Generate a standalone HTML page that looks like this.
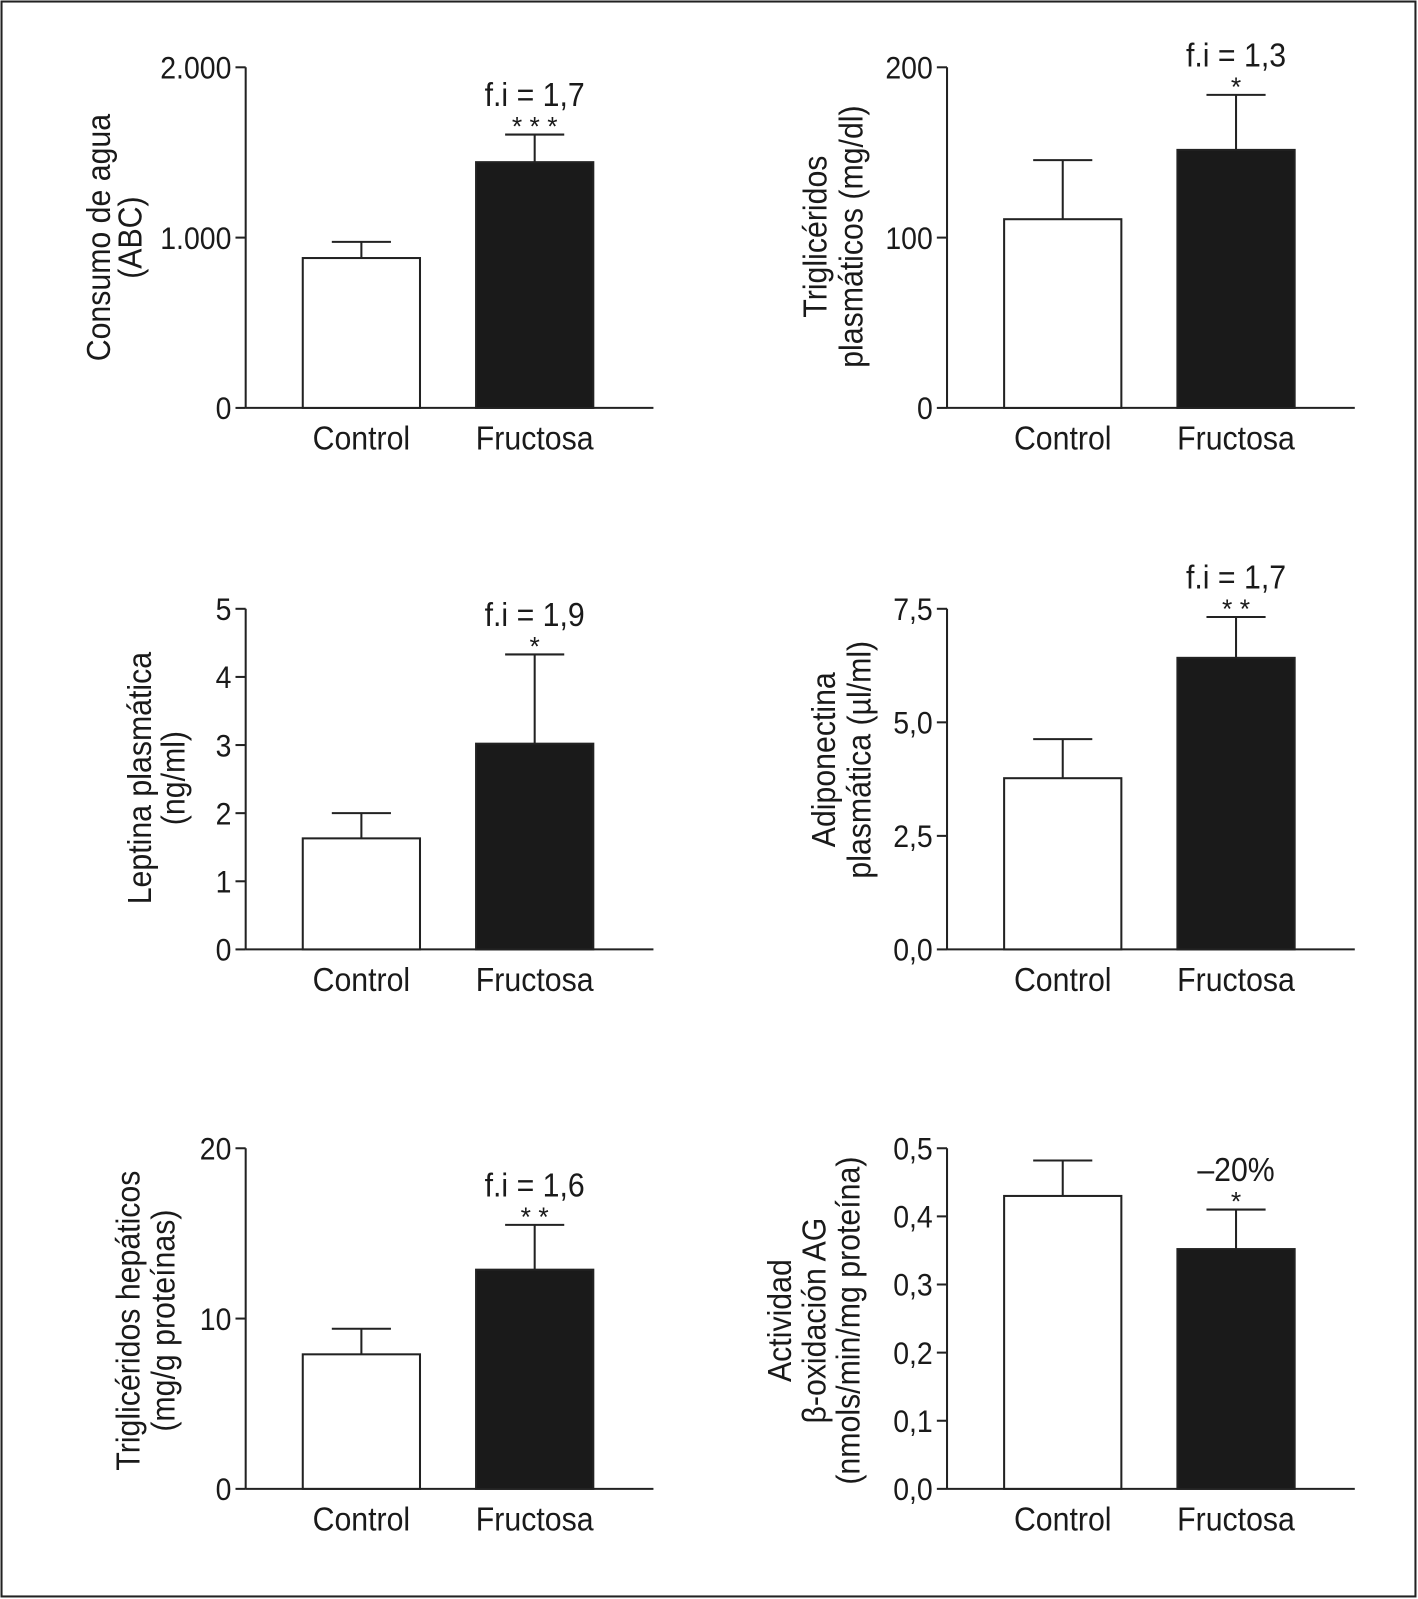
<!DOCTYPE html>
<html><head><meta charset="utf-8"><style>
html,body{margin:0;padding:0;background:#fff}
svg{display:block}
text{font-family:"Liberation Sans",sans-serif;fill:#1a1a1a}
</style></head><body>
<svg id="fig" width="1418" height="1599" viewBox="0 0 1391 1568" preserveAspectRatio="none" xmlns="http://www.w3.org/2000/svg">
<rect x="1.5" y="1.5" width="1387" height="1564" fill="#fff" stroke="#222" stroke-width="2"/>
</svg>
<script>
const categories = ["Control", "Fructosa"];
const panelTitles = [["Consumo de agua","(ABC)"],["Triglicéridos","plasmáticos (mg/dl)"],["Leptina plasmática","(ng/ml)"],["Adiponectina","plasmática (µl/ml)"],["Triglicéridos hepáticos","(mg/g proteínas)"],["Actividad","β-oxidación AG","(nmols/min/mg proteína)"]];
const yMax = [2000, 200, 5, 7.5, 20, 0.5];
const tickValues = [[0,1000,2000],[0,100,200],[0,1,2,3,4,5],[0,2.5,5,7.5],[0,10,20],[0,0.1,0.2,0.3,0.4,0.5]];
const tickLabels = [["0","1.000","2.000"],["0","100","200"],["0","1","2","3","4","5"],["0,0","2,5","5,0","7,5"],["0","10","20"],["0,0","0,1","0,2","0,3","0,4","0,5"]];
const meanValues = [[880,1443],[110.8,151.5],[1.63,3.02],[3.77,6.42],[7.9,12.87],[0.43,0.352]];
const errValues = [[975,1605],[145.5,183.8],[2.0,4.33],[4.63,7.32],[9.4,15.5],[0.482,0.41]];
const foldLabels = ["f.i = 1,7","f.i = 1,3","f.i = 1,9","f.i = 1,7","f.i = 1,6","–20%"];
const sigLabels = ["* * *","*","*","* *","* *","*"];

const svg = document.getElementById('fig');
const NS = "http://www.w3.org/2000/svg";
function mk(tag, attrs, parent){const e=document.createElementNS(NS,tag);for(const k in attrs)e.setAttribute(k,attrs[k]);(parent||svg).appendChild(e);return e;}
function squeeze(t,f){
  const w=t.getComputedTextLength();
  t.setAttribute('textLength',(w*(f||0.9)).toFixed(1));
  t.setAttribute('lengthAdjust','spacingAndGlyphs');
}
const layout=[{ax:241,top:66,bot:400},{ax:929,top:66,bot:400},{ax:241,top:597,bot:931},{ax:929,top:597,bot:931},{ax:241,top:1126,bot:1460},{ax:929,top:1126,bot:1460}];
const titleX=[[97,128],[800,835],[137,170],[808,843],[126,160],[765,799,832]];
const titleY=[233,232,763,745,1295,1295];

layout.forEach((L,p)=>{
  const g=mk('g',{});
  
  
  const y=v=>L.bot-(v/yMax[p])*(L.bot-L.top);
  const xStart=[L.ax+56,L.ax+226], bw=115;
  const yl=mk('line',{x1:L.ax,y1:L.top,x2:L.ax,y2:L.bot,stroke:'#222','stroke-width':2},g);
  
  
  const xl=mk('line',{x1:L.ax,y1:L.bot,x2:L.ax+400,y2:L.bot,stroke:'#222','stroke-width':2},g);
  
  
  tickValues[p].forEach((t,i)=>{
    mk('line',{x1:L.ax-10,y1:y(t),x2:L.ax,y2:y(t),stroke:'#222','stroke-width':2},g);
    const tx=mk('text',{x:L.ax-14,y:y(t)+11,'text-anchor':'end','font-size':31},g);
    tx.textContent=tickLabels[p][i];
    
    
    squeeze(tx);
  });
  categories.forEach((c,i)=>{
    const x0=xStart[i], cx=x0+bw/2;
    const ye=y(errValues[p][i]), ym=y(meanValues[p][i]);
    mk('line',{x1:cx,y1:ym,x2:cx,y2:ye,stroke:'#222','stroke-width':2},g);
    mk('line',{x1:cx-29,y1:ye,x2:cx+29,y2:ye,stroke:'#222','stroke-width':2},g);
    const r=mk('rect',{x:x0,y:ym,width:bw,height:L.bot-ym,fill:i?'#1a1a1a':'#fff',stroke:'#222','stroke-width':2},g);
    
    
    const lb=mk('text',{x:cx,y:L.bot+41,'text-anchor':'middle','font-size':33},g);
    lb.textContent=c;
    
    
    squeeze(lb);
  });
  const fcx=xStart[1]+bw/2, ye=y(errValues[p][1]);
  const s=mk('text',{x:fcx,y:ye+1,'text-anchor':'middle','font-size':26},g);
  s.textContent=sigLabels[p];
  
  
  const f=mk('text',{x:fcx,y:ye-28,'text-anchor':'middle','font-size':33},g);
  f.textContent=foldLabels[p];
  
  
  squeeze(f);
  panelTitles[p].forEach((line,k)=>{
    const tx=titleX[p][k]+11, ty=titleY[p];
    const t=mk('text',{x:tx,y:ty,'text-anchor':'middle','font-size':33,transform:`rotate(-90 ${tx} ${ty})`},g);
    t.textContent=line;
    
    
    squeeze(t);
  });
});
</script>
</body></html>
